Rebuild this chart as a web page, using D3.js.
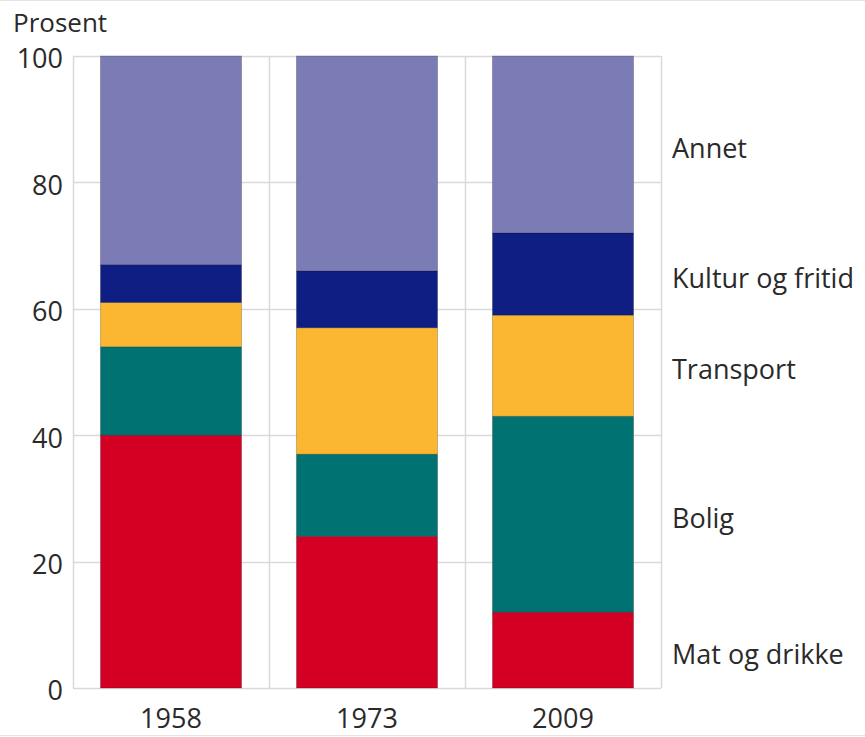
<!DOCTYPE html>
<html>
<head>
<meta charset="utf-8">
<script src="https://cdn.jsdelivr.net/npm/d3@7"></script>
<style>
  body { margin: 0; background: #fff; }
  text { font-family: "Open Sans", "Noto Sans", sans-serif; fill: #2a2a2a; }
</style>
</head>
<body>
<script>
// data (percent of household spending)
var years = ["1958", "1973", "2009"];
var categories = ["Mat og drikke", "Bolig", "Transport", "Kultur og fritid", "Annet"];
var matOgDrikke = [40, 24, 12];
var bolig = [14, 13, 31];
var transport = [7, 20, 16];
var kultur = [6, 9, 13];
var annet = [33, 34, 28];
var yTicks = [0, 20, 40, 60, 80, 100];
var colors = ["#D40024", "#007272", "#FBB731", "#0F1E82", "#7B7BB5"];

var svg_width = 865;
var svg_height = 737;
var font_size = '27px';

const svg = d3.select('body')
    .append('svg')
    .attr("width", svg_width)
    .attr("height", svg_height);

// faint page rules top and bottom
svg.append('line').attr('x1', 0).attr('x2', svg_width).attr('y1', 0.5).attr('y2', 0.5)
    .attr('stroke', '#e6e6e6');
svg.append('line').attr('x1', 0).attr('x2', svg_width).attr('y1', 735.5).attr('y2', 735.5)
    .attr('stroke', '#e6e6e6');

const x = d3.scaleBand().domain(years).range([73, 661]).padding(0);
const y = d3.scaleLinear().domain([0, 100]).range([688, 56]);

// table for the stack
const table = years.map((yr, i) => ({
    year: yr,
    "Mat og drikke": matOgDrikke[i],
    "Bolig": bolig[i],
    "Transport": transport[i],
    "Kultur og fritid": kultur[i],
    "Annet": annet[i]
}));
const series = d3.stack().keys(categories)(table);

// grid
const grid_g = svg.append('g');
grid_g.selectAll('.hgrid').data(yTicks).enter().append('line')
    .attr('x1', x.range()[0]).attr('x2', x.range()[1])
    .attr('y1', d => Math.round(y(d)) + 0.5).attr('y2', d => Math.round(y(d)) + 0.5)
    .attr('stroke', '#d9d9d9').attr('stroke-width', 1.5);
const vlines = [x.range()[0]].concat(years.map(d => x(d) + x.bandwidth()));
grid_g.selectAll('.vgrid').data(vlines).enter().append('line')
    .attr('x1', d => Math.round(d) + 0.5).attr('x2', d => Math.round(d) + 0.5)
    .attr('y1', y(100)).attr('y2', y(0))
    .attr('stroke', '#d9d9d9').attr('stroke-width', 1.5);

// bars
const barW = x.bandwidth() * 0.72;
const plot_g = svg.append('g');
plot_g.selectAll('g').data(series).enter().append('g')
    .attr('fill', (d, i) => colors[i])
    .selectAll('rect').data(d => d).enter().append('rect')
    .attr('x', d => x(d.data.year) + (x.bandwidth() - barW) / 2)
    .attr('width', barW)
    .attr('y', d => y(d[1]))
    .attr('height', d => y(d[0]) - y(d[1]))
    .attr('stroke', 'rgba(0,0,0,0.25)')
    .attr('stroke-width', 0.8);

// y axis labels
svg.selectAll('.ytick').data(yTicks).enter().append('text')
    .attr('x', 63)
    .attr('y', d => y(d))
    .attr('dy', '0.46em')
    .attr('text-anchor', 'end')
    .style('font-size', font_size)
    .text(d => d);

svg.append('text')
    .attr('x', 13).attr('y', 32)
    .style('font-size', '26px')
    .text('Prosent');

// x axis labels
svg.selectAll('.xtick').data(years).enter().append('text')
    .attr('x', d => x(d) + x.bandwidth() / 2)
    .attr('y', 728)
    .attr('text-anchor', 'middle')
    .style('font-size', font_size)
    .text(d => d);

// series labels next to the last bar
const last = years.length - 1;
svg.selectAll('.slabel').data(series).enter().append('text')
    .attr('x', 672)
    .attr('y', d => (y(d[last][0]) + y(d[last][1])) / 2)
    .attr('dy', '0.5em')
    .style('font-size', font_size)
    .text(d => d.key);
</script>
</body>
</html>
